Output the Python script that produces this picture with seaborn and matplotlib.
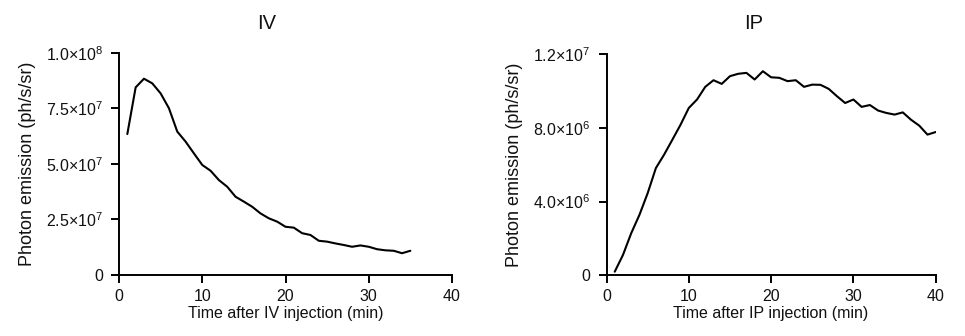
import matplotlib
matplotlib.use("Agg")
import matplotlib.pyplot as plt
import seaborn as sns
import pandas as pd

iv_time = list(range(1, 36))
iv_signal = [63.4e6, 84.4e6, 88.3e6, 86.2e6, 81.7e6, 75.0e6, 64.5e6, 60.0e6, 54.7e6, 49.5e6,
             46.9e6, 42.7e6, 39.7e6, 35.2e6, 33.0e6, 30.7e6, 27.7e6, 25.5e6, 24.0e6, 21.7e6,
             21.3e6, 18.8e6, 18.0e6, 15.4e6, 15.0e6, 14.2e6, 13.5e6, 12.7e6, 13.3e6, 12.7e6,
             11.6e6, 11.1e6, 10.9e6, 9.8e6, 10.9e6]

ip_time = list(range(1, 41))
ip_signal = [0.18e6, 1.09e6, 2.27e6, 3.27e6, 4.45e6, 5.82e6, 6.55e6, 7.36e6, 8.18e6, 9.09e6,
             9.55e6, 10.24e6, 10.6e6, 10.4e6, 10.82e6, 10.95e6, 11.0e6, 10.64e6, 11.09e6, 10.76e6,
             10.73e6, 10.55e6, 10.6e6, 10.24e6, 10.36e6, 10.35e6, 10.13e6, 9.73e6, 9.36e6, 9.55e6,
             9.15e6, 9.25e6, 8.95e6, 8.82e6, 8.73e6, 8.85e6, 8.45e6, 8.13e6, 7.64e6, 7.78e6]

iv_yticks = [0, 2.5e7, 5.0e7, 7.5e7, 1.0e8]
iv_ylabels = ["0", "2.5×10$^{7}$", "5.0×10$^{7}$", "7.5×10$^{7}$", "1.0×10$^{8}$"]
ip_yticks = [0, 4.0e6, 8.0e6, 1.2e7]
ip_ylabels = ["0", "4.0×10$^{6}$", "8.0×10$^{6}$", "1.2×10$^{7}$"]
xticks = [0, 10, 20, 30, 40]

sns.set_theme(style="ticks")
plt.rcParams['font.family'] = ['Liberation Sans', 'DejaVu Sans']
plt.rcParams['mathtext.fontset'] = 'custom'
plt.rcParams['mathtext.rm'] = 'Liberation Sans'
plt.rcParams['mathtext.it'] = 'Liberation Sans'
plt.rcParams['mathtext.default'] = 'regular'

fig = plt.figure(figsize=(9.65, 3.36), dpi=100)
W, H = 965, 336
ax1 = fig.add_axes([119 / W, 1 - 275 / H, (452 - 119) / W, (275 - 52.7) / H])
ax2 = fig.add_axes([606.5 / W, 1 - 275 / H, (935.7 - 606.5) / W, (275 - 54.5) / H])

df_iv = pd.DataFrame({"t": iv_time, "v": iv_signal})
df_ip = pd.DataFrame({"t": ip_time, "v": ip_signal})

panels = [
    (ax1, df_iv, "IV", "Time after IV injection (min)", iv_yticks, iv_ylabels, 1.0e8, 0.444, 16.8),
    (ax2, df_ip, "IP", "Time after IP injection (min)", ip_yticks, ip_ylabels, 1.2e7, 0.448, 18.2),
]
for ax, df, title, xlabel, yt, yl, ymax, tx, tpad in panels:
    sns.lineplot(data=df, x="t", y="v", ax=ax, color="black", linewidth=1.5)
    ax.set_xlim(0, 40)
    ax.set_ylim(0, ymax)
    ax.set_xticks(xticks)
    ax.set_yticks(yt)
    ax.set_yticklabels(yl)
    ax.set_title(title, fontsize=14.5, pad=tpad, x=tx, color="#111111")
    ax.set_xlabel(xlabel, fontsize=11.5, labelpad=1.5, color="#111111")
    ax.set_ylabel("Photon emission (ph/s/sr)", fontsize=13, labelpad=7, color="#111111")
    ax.tick_params(axis="both", labelsize=11.5, width=1.4, length=5.5, color="black",
                   labelcolor="#111111", direction="out")
    ax.tick_params(axis="x", pad=4.4)
    ax.tick_params(axis="y", pad=6)
    for side in ["top", "right"]:
        ax.spines[side].set_visible(False)
    for side in ["left", "bottom"]:
        ax.spines[side].set_linewidth(1.4)
        ax.spines[side].set_color("black")

fig.savefig("out.png", dpi=100)
